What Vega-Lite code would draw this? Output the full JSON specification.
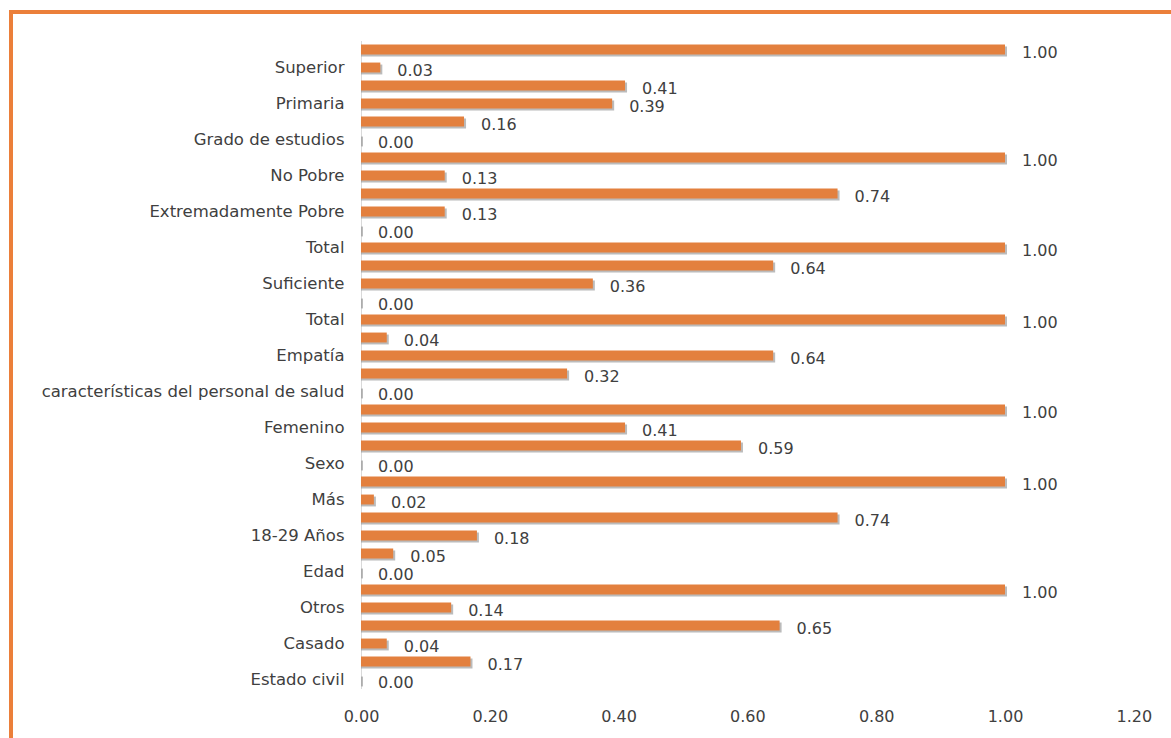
{
  "$schema": "https://vega.github.io/schema/vega-lite/v6.json",
  "autosize": "none",
  "padding": {"left": 11, "top": 12, "right": 0, "bottom": 0},
  "width": 1175,
  "height": 740,
  "background": "white",
  "config": {
    "view": {"stroke": "#EB7F3A", "strokeWidth": 4, "fill": "white"},
    "font": "DejaVu Sans"
  },
  "data": {
    "values": [
      {"key": "01 ", "value": 1.00},
      {"key": "02 Superior", "value": 0.03},
      {"key": "03 ", "value": 0.41},
      {"key": "04 Primaria", "value": 0.39},
      {"key": "05 ", "value": 0.16},
      {"key": "06 Grado de estudios", "value": 0.00},
      {"key": "07 ", "value": 1.00},
      {"key": "08 No Pobre", "value": 0.13},
      {"key": "09 ", "value": 0.74},
      {"key": "10 Extremadamente Pobre", "value": 0.13},
      {"key": "11 ", "value": 0.00},
      {"key": "12 Total", "value": 1.00},
      {"key": "13 ", "value": 0.64},
      {"key": "14 Suficiente", "value": 0.36},
      {"key": "15 ", "value": 0.00},
      {"key": "16 Total", "value": 1.00},
      {"key": "17 ", "value": 0.04},
      {"key": "18 Empatía", "value": 0.64},
      {"key": "19 ", "value": 0.32},
      {"key": "20 características del personal de salud", "value": 0.00},
      {"key": "21 ", "value": 1.00},
      {"key": "22 Femenino", "value": 0.41},
      {"key": "23 ", "value": 0.59},
      {"key": "24 Sexo", "value": 0.00},
      {"key": "25 ", "value": 1.00},
      {"key": "26 Más", "value": 0.02},
      {"key": "27 ", "value": 0.74},
      {"key": "28 18-29 Años", "value": 0.18},
      {"key": "29 ", "value": 0.05},
      {"key": "30 Edad", "value": 0.00},
      {"key": "31 ", "value": 1.00},
      {"key": "32 Otros", "value": 0.14},
      {"key": "33 ", "value": 0.65},
      {"key": "34 Casado", "value": 0.04},
      {"key": "35 ", "value": 0.17},
      {"key": "36 Estado civil", "value": 0.00}
    ]
  },
  "encoding": {
    "y": {
      "field": "key",
      "type": "nominal",
      "sort": null,
      "scale": {"range": [28.5, 676.5], "paddingInner": 0.45, "paddingOuter": 0.225},
      "axis": {
        "title": null,
        "offset": -350,
        "ticks": false,
        "domainColor": "#D9D9D9",
        "domainWidth": 1,
        "labelExpr": "substring(datum.value, 3)",
        "labelFontSize": 16.5,
        "labelColor": "#404040",
        "labelPadding": 17,
        "labelLimit": 400
      }
    },
    "x": {
      "field": "value",
      "type": "quantitative",
      "scale": {"domain": [-0.543478, 1.281056], "nice": false, "zero": false},
      "axis": {
        "title": null,
        "values": [0, 0.2, 0.4, 0.6, 0.8, 1.0, 1.2],
        "format": ".2f",
        "grid": false,
        "domain": false,
        "ticks": false,
        "offset": -46,
        "labelPadding": 2,
        "labelFontSize": 16,
        "labelColor": "#404040"
      }
    }
  },
  "layer": [
    {
      "mark": {"type": "bar", "color": "#8E8E8E", "opacity": 0.6, "xOffset": 2, "yOffset": 2},
      "encoding": {"x2": {"datum": 0}}
    },
    {
      "mark": {"type": "bar", "color": "#E3803E"},
      "encoding": {"x2": {"datum": 0}}
    },
    {
      "mark": {"type": "text", "align": "left", "baseline": "middle", "dx": 17, "dy": 3, "fontSize": 16, "color": "#404040"},
      "encoding": {"text": {"field": "value", "type": "quantitative", "format": ".2f"}}
    }
  ]
}
